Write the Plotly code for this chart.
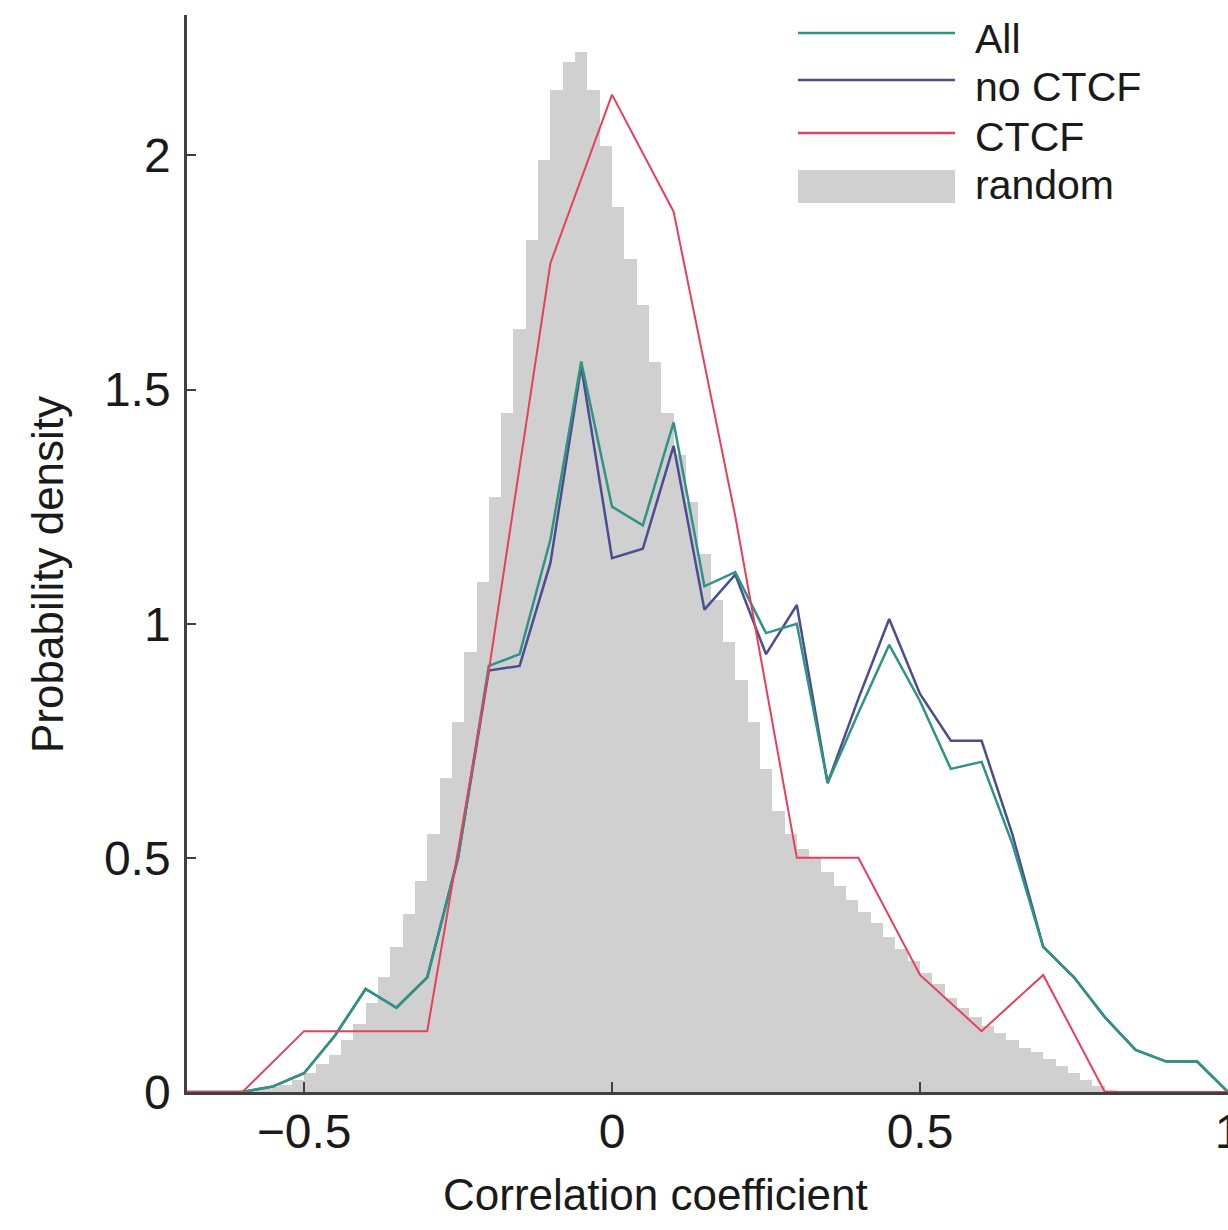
import numpy as np
import plotly.graph_objects as go

# ---------------- data ----------------
# "random" histogram: bins of width 0.02 starting at -0.60
hist_start = -0.60
hist_width = 0.02
random_density = [
    0.003, 0.006, 0.010, 0.016, 0.025, 0.040, 0.060, 0.080, 0.110, 0.145,
    0.190, 0.246, 0.310, 0.380, 0.450, 0.550, 0.670, 0.790, 0.940, 1.090,
    1.270, 1.450, 1.630, 1.820, 1.990, 2.140, 2.200, 2.220, 2.140, 2.020,
    1.890, 1.780, 1.680, 1.560, 1.450, 1.360, 1.260, 1.150, 1.050, 0.960,
    0.880, 0.790, 0.690, 0.600, 0.550, 0.520, 0.500, 0.470, 0.440, 0.410,
    0.385, 0.360, 0.330, 0.305, 0.280, 0.255, 0.230, 0.200, 0.180, 0.160,
    0.140, 0.125, 0.110, 0.095, 0.085, 0.070, 0.055, 0.040, 0.025, 0.012,
    0.005, 0.002,
]

# line curves sampled every 0.05
r_fine = [-0.70, -0.65, -0.60, -0.55, -0.50, -0.45, -0.40, -0.35, -0.30, -0.25,
          -0.20, -0.15, -0.10, -0.05, 0.00, 0.05, 0.10, 0.15, 0.20, 0.25,
          0.30, 0.35, 0.40, 0.45, 0.50, 0.55, 0.60, 0.65, 0.70, 0.75,
          0.80, 0.85, 0.90, 0.95, 1.00]
all_density = [0.0, 0.0, 0.0, 0.012, 0.04, 0.12, 0.22, 0.18, 0.245, 0.50,
               0.91, 0.935, 1.18, 1.56, 1.25, 1.21, 1.43, 1.08, 1.11, 0.98,
               1.00, 0.66, 0.81, 0.955, 0.835, 0.69, 0.705, 0.53, 0.31, 0.245,
               0.16, 0.09, 0.065, 0.065, 0.0]
noctcf_density = [0.0, 0.0, 0.0, 0.012, 0.04, 0.12, 0.22, 0.18, 0.245, 0.50,
                  0.90, 0.91, 1.13, 1.55, 1.14, 1.16, 1.38, 1.03, 1.105, 0.935,
                  1.04, 0.66, 0.84, 1.01, 0.85, 0.75, 0.75, 0.55, 0.31, 0.245,
                  0.16, 0.09, 0.065, 0.065, 0.0]

# CTCF curve sampled every 0.1
r_coarse = [-0.7, -0.6, -0.5, -0.4, -0.3, -0.2, -0.1, 0.0, 0.1, 0.2,
            0.3, 0.4, 0.5, 0.6, 0.7, 0.8, 0.9, 1.0]
ctcf_density = [0.0, 0.0, 0.13, 0.13, 0.13, 0.90, 1.77, 2.13, 1.88, 1.23,
                0.50, 0.50, 0.25, 0.13, 0.25, 0.0, 0.0, 0.0]

series_names = ["All", "no CTCF", "CTCF", "random"]
x_ticks = [-0.5, 0, 0.5, 1]
x_tick_text = ["\u22120.5", "0", "0.5", "1"]
y_ticks = [0, 0.5, 1, 1.5, 2]
y_tick_text = ["0", "0.5", "1", "1.5", "2"]

# ---------------- style ----------------
C_ALL = "#2f9482"
C_NO = "#4b4d92"
C_CTCF = "#e5405c"
C_RAND = "#d0d0d0"
AX = "#404040"
FONT = "Liberation Sans, Arial, sans-serif"

W, H = 1228, 1230
ML, MR, MT, MB = 187, 0, 15, 138
pw, ph = W - ML - MR, H - MT - MB

centers = hist_start + hist_width * (np.arange(len(random_density)) + 0.5)

fig = go.Figure()
fig.add_trace(go.Bar(x=centers, y=random_density, width=hist_width,
                     marker=dict(color=C_RAND, line=dict(width=0)),
                     name=series_names[3], showlegend=False))
fig.add_trace(go.Scatter(x=r_fine, y=noctcf_density, mode="lines",
                         line=dict(color=C_NO, width=2.5), name=series_names[1],
                         showlegend=False))
fig.add_trace(go.Scatter(x=r_fine, y=all_density, mode="lines",
                         line=dict(color=C_ALL, width=2.5), name=series_names[0],
                         showlegend=False))
fig.add_trace(go.Scatter(x=r_coarse, y=ctcf_density, mode="lines",
                         line=dict(color=C_CTCF, width=2), name=series_names[2],
                         showlegend=False))

# pixel -> paper helpers for decoration placement
def px_x(px):
    return (px - ML) / pw

def px_y(py):
    return (H - MB - py) / ph

shapes = []
annotations = []
# manual legend
leg_x0, leg_x1, leg_tx = px_x(798), px_x(955), px_x(973)
leg_line_y = [33, 80, 133]
leg_text_y = [39, 87, 137, 185]
for name, col, ly in zip(series_names[:3], [C_ALL, C_NO, C_CTCF], leg_line_y):
    shapes.append(dict(type="line", xref="paper", yref="paper",
                       x0=leg_x0, x1=leg_x1, y0=px_y(ly), y1=px_y(ly),
                       line=dict(color=col, width=2.5)))
shapes.append(dict(type="rect", xref="paper", yref="paper",
                   x0=leg_x0, x1=leg_x1, y0=px_y(203), y1=px_y(170),
                   fillcolor=C_RAND, line=dict(width=0)))
for name, ty in zip(series_names, leg_text_y):
    annotations.append(dict(text=name, xref="paper", yref="paper",
                            x=leg_tx, y=px_y(ty), xanchor="left", yanchor="middle",
                            showarrow=False, font=dict(size=41, color="#1a1a1a", family=FONT)))
# axis titles
annotations.append(dict(text="Correlation coefficient", xref="paper", yref="paper",
                        x=px_x(655), y=px_y(1194), xanchor="center", yanchor="middle",
                        showarrow=False, font=dict(size=44, color="#1a1a1a", family=FONT)))
annotations.append(dict(text="Probability density", xref="paper", yref="paper",
                        x=px_x(47), y=px_y(575), xanchor="center", yanchor="middle",
                        textangle=-90, showarrow=False,
                        font=dict(size=44, color="#1a1a1a", family=FONT)))

fig.update_layout(
    width=W, height=H,
    margin=dict(l=ML, r=MR, t=MT, b=MB, pad=0, autoexpand=False),
    paper_bgcolor="white", plot_bgcolor="white",
    bargap=0, showlegend=False,
    shapes=shapes, annotations=annotations,
    font=dict(family=FONT, size=48, color="#1a1a1a"),
    xaxis=dict(range=[-0.69, 1.0], tickvals=x_ticks, ticktext=x_tick_text,
               ticks="inside", ticklen=10, tickwidth=2, tickcolor=AX,
               showline=True, linecolor=AX, linewidth=2.5, mirror=False,
               showgrid=False, zeroline=False, ticklabelstandoff=-4,
               ticklabeloverflow="allow", automargin=False,
               tickfont=dict(size=48, family=FONT, color="#1a1a1a")),
    yaxis=dict(range=[0, 2.3], tickvals=y_ticks, ticktext=y_tick_text,
               ticks="inside", ticklen=9, tickwidth=2, tickcolor=AX,
               showline=True, linecolor=AX, linewidth=2.5, mirror=False,
               showgrid=False, zeroline=False, ticklabelstandoff=4,
               automargin=False,
               tickfont=dict(size=48, family=FONT, color="#1a1a1a")),
)

fig.write_html("out.html")
